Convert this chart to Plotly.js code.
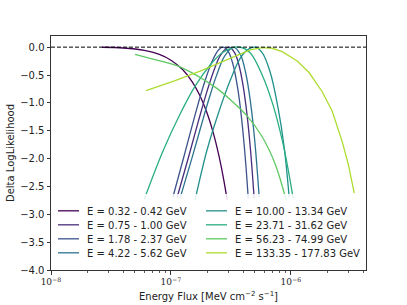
<!DOCTYPE html>
<html>
<head>
<meta charset="utf-8">
<script src="https://cdn.plot.ly/plotly-3.0.1.min.js"></script>
<style>html,body{margin:0;padding:0;background:#fff;}#chart{width:407px;height:305px;}</style>
</head>
<body>
<div id="chart"></div>
<script>
// ---- data ----
const binLabels = [
  'E = 0.32 - 0.42 GeV', 'E = 0.75 - 1.00 GeV', 'E = 1.78 - 2.37 GeV', 'E = 4.22 - 5.62 GeV',
  'E = 10.00 - 13.34 GeV', 'E = 23.71 - 31.62 GeV', 'E = 56.23 - 74.99 GeV', 'E = 133.35 - 177.83 GeV'
];
const flux0 = [2.66e-8, 4e-8, 6e-8, 8e-8, 1e-7, 1.25e-7, 1.5e-7, 1.75e-7, 2e-7, 2.25e-7, 2.5e-7, 2.75e-7, 2.94e-7];
const dlogl0 = [-0.002, -0.015, -0.058, -0.131, -0.234, -0.402, -0.617, -0.877, -1.183, -1.534, -1.931, -2.373, -2.740];
const flux1 = [1.125e-7, 1.4e-7, 1.7e-7, 2.0e-7, 2.3e-7, 2.6e-7, 3.03e-7, 3.4e-7, 3.7e-7, 4.0e-7, 4.3e-7, 4.6e-7, 4.94e-7];
const dlogl1 = [-2.699, -1.976, -1.315, -0.789, -0.396, -0.137, 0, -0.102, -0.334, -0.700, -1.199, -1.833, -2.713];
const flux2 = [1.04e-7, 1.3e-7, 1.6e-7, 1.9e-7, 2.2e-7, 2.5e-7, 2.72e-7, 3.0e-7, 3.3e-7, 3.6e-7, 3.9e-7, 4.2e-7, 4.41e-7];
const dlogl2 = [-2.685, -1.918, -1.193, -0.640, -0.257, -0.046, 0, -0.075, -0.32, -0.737, -1.325, -2.084, -2.717];
const flux3 = [1.192e-7, 1.5e-7, 1.8e-7, 2.1e-7, 2.4e-7, 2.8e-7, 3.32e-7, 3.8e-7, 4.2e-7, 4.6e-7, 5.0e-7, 5.44e-7];
const dlogl3 = [-2.711, -1.982, -1.383, -0.891, -0.507, -0.162, 0, -0.138, -0.464, -0.981, -1.689, -2.690];
const flux4 = [1.590e-7, 1.991e-7, 2.474e-7, 3.115e-7, 3.776e-7, 4.402e-7, 5.036e-7, 5.761e-7, 6.72e-7, 7.83e-7, 8.79e-7, 9.68e-7];
const dlogl4 = [-2.74, -1.86, -1.2, -0.6, -0.2, -0.04, 0, -0.1, -0.45, -1.1, -1.8, -2.7];
const flux5 = [5.97e-8, 8.60e-8, 1.192e-7, 1.590e-7, 2.122e-7, 2.672e-7, 3.30e-7, 3.776e-7, 4.574e-7, 5.761e-7, 7.12e-7, 8.63e-7, 9.68e-7, 1.045e-6];
const dlogl5 = [-2.74, -1.86, -1.2, -0.7, -0.32, -0.1, -0.01, 0, -0.1, -0.5, -1.05, -1.75, -2.3, -2.72];
const flux6 = [5.02e-8, 6.70e-8, 8.93e-8, 1.263e-7, 2.413e-7, 3.30e-7, 4.294e-7, 5.728e-7, 7.40e-7, 9.14e-7];
const dlogl6 = [-0.13, -0.2, -0.27, -0.38, -0.74, -0.99, -1.23, -1.6, -2.1, -2.75];
const flux7 = [6.20e-8, 1.083e-7, 1.751e-7, 2.571e-7, 3.776e-7, 4.574e-7, 5.761e-7, 6.98e-7, 8.46e-7, 1.129e-6, 1.421e-6, 1.824e-6, 2.211e-6, 2.679e-6, 3.007e-6, 3.374e-6];
const dlogl7 = [-0.78, -0.6, -0.43, -0.28, -0.12, -0.05, -0.01, -0.02, -0.08, -0.25, -0.46, -0.8, -1.15, -1.7, -2.1, -2.62];
const xTickVals = [1e-8, 1e-7, 1e-6];
const xTickText = ['10<sup>−8</sup>', '10<sup>−7</sup>', '10<sup>−6</sup>'];

// ---- styling ----
const palette = ['#440154', '#472d7b', '#3b528b', '#2c728e', '#21918c', '#28ae80', '#5ec962', '#addc30'];
const fluxes = [flux0, flux1, flux2, flux3, flux4, flux5, flux6, flux7];
const dlogls = [dlogl0, dlogl1, dlogl2, dlogl3, dlogl4, dlogl5, dlogl6, dlogl7];
// legend is filled column-wise in the reference
const ranks = [1, 3, 5, 7, 2, 4, 6, 8];

const traces = binLabels.map((name, i) => ({
  x: fluxes[i], y: dlogls[i], name: name, type: 'scatter', mode: 'lines',
  line: {color: palette[i], width: 1.3, shape: i === 7 ? 'linear' : 'spline'},
  legendrank: ranks[i]
}));

const minorVals = [];
for (let e = -8; e <= -6; e++) for (let m = 2; m <= 9; m++) minorVals.push(m * Math.pow(10, e));

const layout = {
  width: 407, height: 305,
  margin: {l: 51, r: 41, t: 36, b: 35},
  paper_bgcolor: '#fff', plot_bgcolor: '#fff',
  font: {family: 'DejaVu Sans', size: 10, color: '#222'},
  showlegend: true,
  legend: {
    orientation: 'h', entrywidth: 103, entrywidthmode: 'pixels',
    x: 0.0, y: 0.02, xanchor: 'left', yanchor: 'bottom',
    bgcolor: 'rgba(255,255,255,0.85)', borderwidth: 0,
    font: {family: 'DejaVu Sans', size: 10, color: '#222'},
    traceorder: 'normal'
  },
  xaxis: {
    type: 'log', range: [-8, -5.374], autorange: false,
    tickvals: xTickVals, ticktext: xTickText,
    ticks: 'outside', ticklen: 3.5, tickwidth: 1, tickcolor: '#333',
    tickfont: {family: 'DejaVu Serif', size: 9, color: '#222'},
    showgrid: false, zeroline: false,
    showline: true, linecolor: '#333', linewidth: 1, mirror: true,
    minor: {tickvals: minorVals, ticks: 'outside', ticklen: 2, tickwidth: 0.8, tickcolor: '#333', showgrid: false},
    title: {text: 'Energy Flux [MeV cm<sup>−2</sup> s<sup>−1</sup>]', font: {family: 'DejaVu Sans', size: 10, color: '#222'}, standoff: 6}
  },
  yaxis: {
    range: [-4.0, 0.2], autorange: false,
    tickvals: [-4, -3.5, -3, -2.5, -2, -1.5, -1, -0.5, 0],
    tickformat: '.1f',
    ticks: 'outside', ticklen: 3.5, tickwidth: 1, tickcolor: '#333',
    showgrid: false, zeroline: false,
    showline: true, linecolor: '#333', linewidth: 1, mirror: true,
    title: {text: 'Delta LogLikelihood', font: {family: 'DejaVu Sans', size: 10, color: '#222'}, standoff: 3}
  },
  shapes: [{
    type: 'line', xref: 'paper', x0: 0, x1: 1, yref: 'y', y0: 0, y1: 0,
    line: {color: '#000', width: 1, dash: '4px,2px'}, layer: 'above'
  }]
};

function parseT(el) {
  const m = /translate\(([-\d.e]+)[ ,]+([-\d.e]+)\)/.exec(el.getAttribute('transform') || '');
  return m ? [parseFloat(m[1]), parseFloat(m[2])] : [0, 0];
}

Plotly.newPlot('chart', traces, layout, {staticPlot: true, displayModeBar: false}).then(function (gd) {
  // tighten the legend rows to the reference (matplotlib-like) spacing
  const items = Array.from(gd.querySelectorAll('.legend .traces'));
  const ys = [];
  items.forEach(function (el) {
    const t = parseT(el); el._tx = t[0]; el._ty = t[1];
    if (ys.indexOf(t[1]) < 0) ys.push(t[1]);
  });
  ys.sort(function (a, b) { return a - b; });
  const rowGap = 14;
  const shrink = ys.length > 1 ? (ys.length - 1) * (ys[1] - ys[0] - rowGap) : 0;
  items.forEach(function (el) {
    const k = ys.indexOf(el._ty);
    el.setAttribute('transform', 'translate(' + el._tx + ',' + (ys[0] + 2 + k * rowGap) + ')');
    const ln = el.querySelector('.legendlines path');
    if (ln) ln.setAttribute('d', 'M7,0h21');
    const tx = el.querySelector('text.legendtext');
    if (tx) tx.setAttribute('x', 36);
  });
  const sb = gd.querySelector('.legend .scrollbox');
  if (sb) sb.removeAttribute('clip-path');
  const bg = gd.querySelector('.legend rect.bg');
  if (bg) {
    bg.setAttribute('height', parseFloat(bg.getAttribute('height')) - shrink);
    bg.setAttribute('width', 312);
  }
  const lg = gd.querySelector('g.legend');
  if (lg) { const t = parseT(lg); lg.setAttribute('transform', 'translate(' + t[0] + ',' + (t[1] + shrink) + ')'); }
});
</script>
</body>
</html>
